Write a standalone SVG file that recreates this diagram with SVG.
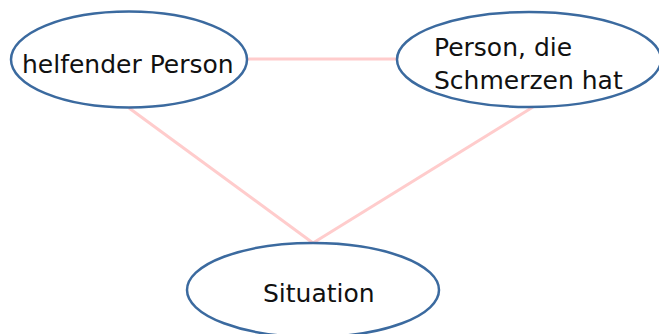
<svg xmlns="http://www.w3.org/2000/svg" width="659" height="334" viewBox="0 0 659 334">
<style>
.node{fill:#fff;stroke:#3B6A9F;stroke-width:2.5}
.lbl{font-family:"DejaVu Sans",sans-serif;font-size:25px;fill:#111}
.edge{stroke:#FFCCCC;stroke-width:3;fill:none}
</style>
<rect width="659" height="334" fill="#fff"/>
<g id="connectors">
<line class="edge" x1="247" y1="59" x2="397" y2="59"/>
<line class="edge" x1="129" y1="108" x2="313" y2="243"/>
<line class="edge" x1="533" y1="107" x2="313" y2="243"/>
</g>
<g id="helfender">
<ellipse class="node" cx="129" cy="59.5" rx="118" ry="48"/>
<text class="lbl" x="22" y="72.5">helfender Person</text>
</g>
<g id="schmerzen">
<ellipse class="node" cx="529" cy="59.5" rx="132" ry="47.5"/>
<text class="lbl" x="434" y="55.5">Person, die</text>
<text class="lbl" x="434" y="88.5">Schmerzen hat</text>
</g>
<g id="situation">
<ellipse class="node" cx="313" cy="290" rx="126" ry="47"/>
<text class="lbl" x="263" y="301.5">Situation</text>
</g>
</svg>
